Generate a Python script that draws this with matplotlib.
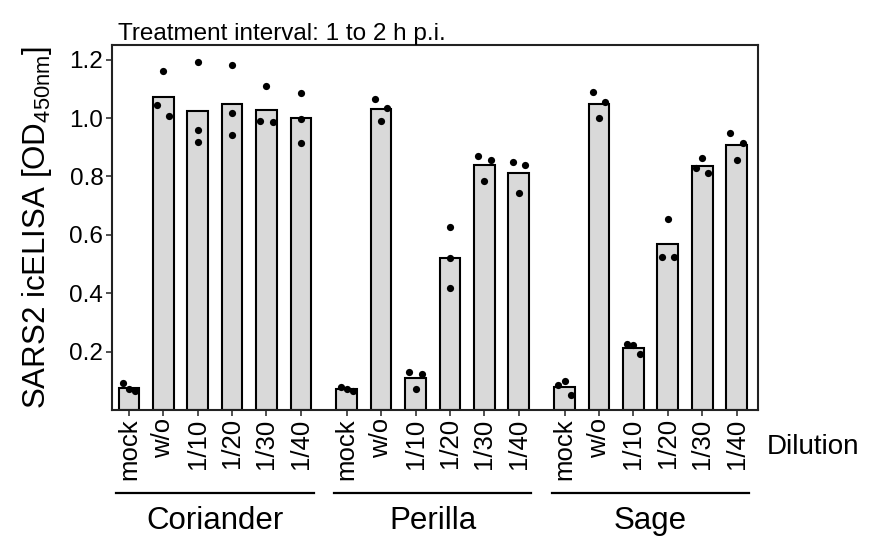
import matplotlib
matplotlib.use("Agg")
import matplotlib.pyplot as plt
import numpy as np

plt.rcParams["font.family"] = ["Liberation Sans", "DejaVu Sans"]
plt.rcParams["mathtext.default"] = "regular"

## data (three replicates per condition)
groups = ["Coriander", "Perilla", "Sage"]
dilutions = ["mock", "w/o", "1/10", "1/20", "1/30", "1/40"]

coriander = [
    [0.071, 0.091, 0.065],
    [1.161, 1.045, 1.008],
    [1.193, 0.958, 0.917],
    [1.182, 1.018, 0.942],
    [1.108, 0.991, 0.985],
    [1.086, 0.997, 0.913],
]
perilla = [
    [0.073, 0.080, 0.066],
    [1.065, 1.033, 0.990],
    [0.131, 0.124, 0.073],
    [0.627, 0.520, 0.418],
    [0.870, 0.857, 0.786],
    [0.849, 0.838, 0.743],
]
sage = [
    [0.100, 0.086, 0.050],
    [1.088, 1.056, 0.999],
    [0.222, 0.227, 0.193],
    [0.655, 0.525, 0.524],
    [0.863, 0.829, 0.813],
    [0.950, 0.915, 0.856],
]
yticks = [0.2, 0.4, 0.6, 0.8, 1.0, 1.2]


def spread(vals, thr=0.039, step=0.18):
    # spread points that sit too close vertically (prism-like scatter)
    vals = np.asarray(vals)
    order = np.argsort(-vals)
    clusters, cur = [], [order[0]]
    for a, b in zip(order[:-1], order[1:]):
        if vals[a] - vals[b] < thr:
            cur.append(b)
        else:
            clusters.append(cur)
            cur = [b]
    clusters.append(cur)
    slots = {1: [0], 2: [-1, 1], 3: [0, -1, 1]}
    off = np.zeros(len(vals))
    for c in clusters:
        for idx, s in zip(sorted(c), slots[len(c)]):
            off[idx] = s * step
    return off


fig = plt.figure(figsize=(8.76, 5.41), dpi=100)
ax = fig.add_axes([0.1275, 0.2421, 0.7375, 0.6747])

group_gap = 1.333
xticks, xlabels = [], []
for g, (name, reps) in enumerate(zip(groups, [coriander, perilla, sage])):
    x0 = g * (len(dilutions) - 1 + group_gap)
    xs = x0 + np.arange(len(dilutions))
    means = [np.mean(r) for r in reps]
    ax.bar(xs, means, width=0.6, color="#d9d9d9", edgecolor="black",
           linewidth=1.5, zorder=2)
    for x, r in zip(xs, reps):
        ax.scatter(x + spread(r), r, s=27, color="black", zorder=3,
                   linewidths=0)
    xticks += list(xs)
    xlabels += dilutions

    # group bracket + name underneath the tick labels
    trans = ax.get_xaxis_transform()
    ax.plot([xs[0] - 0.37, xs[-1] + 0.37], [-0.227, -0.227], color="black",
            lw=1.6, transform=trans, clip_on=False)
    ax.text(xs.mean(), -0.303, name, transform=trans, ha="center",
            va="center", fontsize=22.5)

ax.set_xlim(-0.5, 18.28)
ax.set_ylim(0, 1.25)
ax.set_xticks(xticks)
ax.set_xticklabels(xlabels, rotation=90, fontsize=18.5)
ax.set_yticks(yticks)
ax.set_yticklabels([f"{t:.1f}" for t in yticks], fontsize=17.5)
ax.tick_params(width=1.2, length=4, color="#333333", pad=2)
for sp in ax.spines.values():
    sp.set_linewidth(1.5)
    sp.set_color("#222222")

ax.set_ylabel("SARS2 icELISA [OD$_{450nm}$]", fontsize=22.5, labelpad=11)
ax.set_title("Treatment interval: 1 to 2 h p.i.", loc="left", fontsize=17.5,
             pad=2, x=0.01)
ax.text(1.014, -0.101, "Dilution", transform=ax.transAxes, ha="left",
        va="center", fontsize=20)

fig.savefig("out.png", dpi=100)
